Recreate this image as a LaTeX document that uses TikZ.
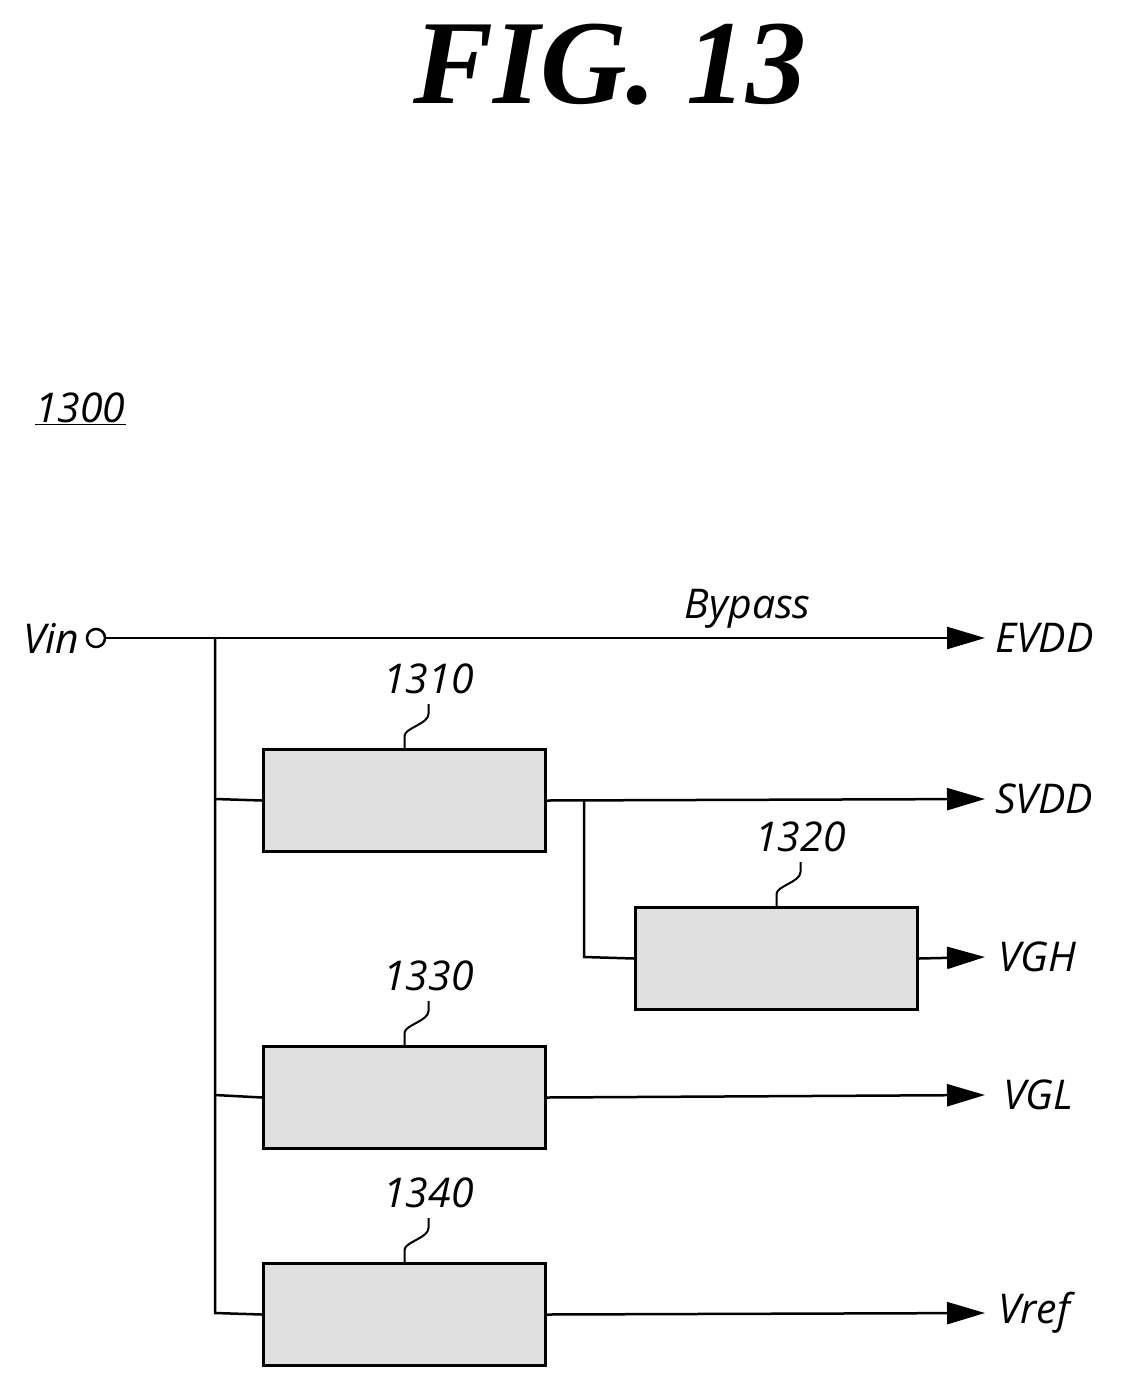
\documentclass[tikz,border=0pt]{standalone}
\usepackage{fontspec}
\setmainfont{Open Sans}
\newfontfamily\figfont{Liberation Serif}
\usetikzlibrary{arrows.meta}

\begin{document}
\begin{tikzpicture}[x=1pt,y=1pt,yscale=-1,
  conv/.style={draw,line width=3pt,fill=black!12,minimum width=282pt,minimum height=102pt,anchor=north west,inner sep=0pt},
  wire/.style={line width=2.5pt},
  feed/.style={wire,-{Triangle[length=38pt,width=22pt]}},
  lbl/.style={font=\fontsize{41}{48}\selectfont\itshape,inner sep=0pt},
  lead/.style={line width=2pt}]
\useasboundingbox (0,0) rectangle (1124,1387);

% Title
\node (title) at (610,65) {\figfont\fontsize{120}{140}\selectfont\bfseries\itshape FIG. 13};
\node[lbl,anchor=south west] (ref) at (35,425) {\underline{1300}};

% Input
\node[draw,circle,line width=2.5pt,minimum size=18pt,inner sep=0pt] (vin) at (96,638) {};
\node[lbl,anchor=east] (vinlbl) at ([xshift=-6pt]vin.west) {Vin};

% Converter blocks
\node[conv] (b1310) at (262,748) {};
\node[conv] (b1320) at (634,906) {};
\node[conv] (b1330) at (262,1045) {};
\node[conv] (b1340) at (262,1262) {};

% Output labels
\coordinate (eEVDD) at (985,638);
\coordinate (eSVDD) at (985,799);
\coordinate (eVGH) at (985,957);
\coordinate (eVGL) at (985,1095);
\coordinate (eVref) at (985,1313);
\node[lbl,anchor=west] (tEVDD) at (995,638) {EVDD};
\node[lbl,anchor=west] (tSVDD) at (995,799) {SVDD};
\node[lbl,anchor=west] (tVGH) at (998,957) {VGH};
\node[lbl,anchor=west] (tVGL) at (1003,1095) {VGL};
\node[lbl,anchor=west] (tVref) at (998,1313) {Vref};

% Wiring
\coordinate (top) at (215,638);
\coordinate (bot) at (215,1313);
\coordinate (tap) at (584,799);
\coordinate (tapd) at (584,957);
\draw[feed] (vin.east) -- (eEVDD) node[pos=0.73,above=8pt,lbl] (bypass) {Bypass};
\draw[wire] (top) -- (bot) -- (b1340.west);
\draw[wire] (215,799) -- (b1310.west);
\draw[wire] (215,1095) -- (b1330.west);
\draw[feed] (b1310.east) -- (eSVDD);
\draw[wire] (tap) -- (tapd) -- (b1320.west);
\draw[feed] (b1320.east) -- (eVGH);
\draw[feed] (b1330.east) -- (eVGL);
\draw[feed] (b1340.east) -- (eVref);

% Reference numerals with leaders
\foreach \b/\t in {b1310/1310,b1320/1320,b1330/1330,b1340/1340}{
  \draw[lead] (\b.north) -- ++(0,-12) .. controls ++(0,-8) and ++(0,10) .. ++(24,-22) -- ++(0,-10)
    coordinate (c\t);
  \node[lbl,anchor=south] (n\t) at ([yshift=-10pt]c\t) {\t};
}
\end{tikzpicture}
\end{document}
